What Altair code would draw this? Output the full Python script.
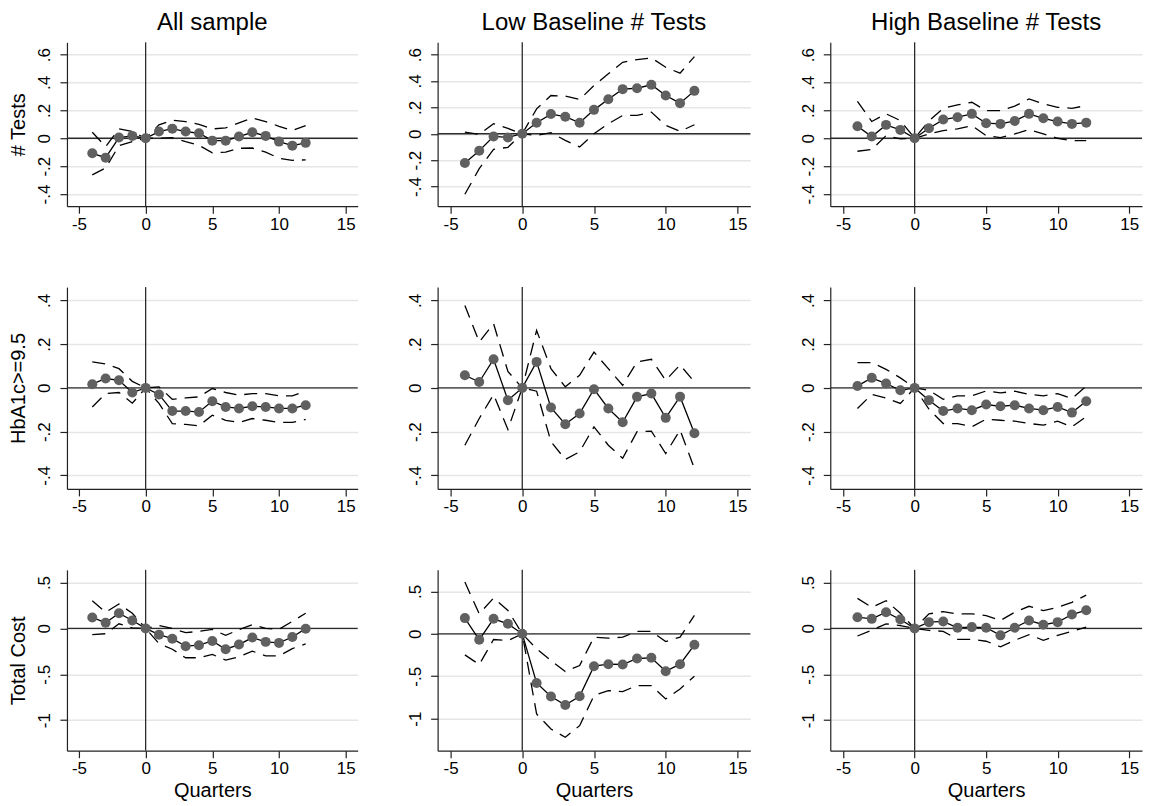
import altair as alt
import pandas as pd

Q = [-4, -3, -2, -1, 0, 1, 2, 3, 4, 5, 6, 7, 8, 9, 10, 11, 12]
X_TICKS = [-5, 0, 5, 10, 15]

COL_TITLES = ["All sample", "Low Baseline # Tests", "High Baseline # Tests"]
ROW_TITLES = ["# Tests", "HbA1c>=9.5", "Total Cost"]
X_TITLE = "Quarters"

# Row 1: # Tests
tests_all_b = [-0.108, -0.139, 0.005, 0.017, 0, 0.048, 0.069, 0.048, 0.036, -0.017, -0.017, 0.012, 0.043, 0.017, -0.024, -0.053, -0.033]
tests_all_hi = [0.043, -0.060, 0.067, 0.048, 0, 0.096, 0.13, 0.12, 0.10, 0.067, 0.074, 0.11, 0.146, 0.12, 0.086, 0.055, 0.091]
tests_all_lo = [-0.263, -0.213, -0.053, -0.024, 0, 0.0, 0.005, -0.024, -0.05, -0.105, -0.1, -0.072, -0.07, -0.1, -0.143, -0.158, -0.155]

tests_low_b = [-0.222, -0.129, -0.020, -0.028, 0, 0.083, 0.149, 0.129, 0.083, 0.181, 0.262, 0.338, 0.345, 0.371, 0.29, 0.232, 0.325]
tests_low_hi = [0.013, -0.005, 0.076, 0.04, 0, 0.189, 0.29, 0.285, 0.26, 0.365, 0.454, 0.542, 0.562, 0.575, 0.504, 0.459, 0.585]
tests_low_lo = [-0.459, -0.265, -0.118, -0.103, 0, -0.013, 0.008, -0.05, -0.1, 0.0, 0.076, 0.139, 0.139, 0.164, 0.063, 0.018, 0.068]

tests_high_b = [0.086, 0.012, 0.096, 0.06, 0, 0.072, 0.134, 0.151, 0.175, 0.108, 0.103, 0.124, 0.175, 0.143, 0.12, 0.103, 0.112]
tests_high_hi = [0.265, 0.12, 0.175, 0.127, 0, 0.125, 0.215, 0.239, 0.258, 0.198, 0.198, 0.23, 0.282, 0.246, 0.222, 0.215, 0.234]
tests_high_lo = [-0.093, -0.081, 0.019, -0.005, 0, 0.03, 0.055, 0.067, 0.091, 0.019, 0.005, 0.031, 0.062, 0.031, 0.0, -0.017, -0.017]

# Row 2: HbA1c>=9.5
hba_all_b = [0.017, 0.043, 0.035, -0.021, 0, -0.03, -0.106, -0.106, -0.11, -0.061, -0.087, -0.094, -0.084, -0.087, -0.094, -0.094, -0.079]
hba_all_hi = [0.119, 0.11, 0.088, 0.03, 0, 0.005, -0.052, -0.046, -0.041, -0.003, -0.021, -0.033, -0.026, -0.026, -0.036, -0.036, -0.015]
hba_all_lo = [-0.087, -0.026, -0.021, -0.07, 0, -0.071, -0.163, -0.167, -0.173, -0.125, -0.148, -0.158, -0.14, -0.148, -0.158, -0.158, -0.144]

hba_low_b = [0.058, 0.027, 0.131, -0.056, 0, 0.119, -0.09, -0.166, -0.117, -0.006, -0.094, -0.157, -0.041, -0.026, -0.137, -0.04, -0.207]
hba_low_hi = [0.377, 0.21, 0.294, 0.075, 0, 0.263, 0.088, 0.005, 0.058, 0.164, 0.088, 0.012, 0.119, 0.131, 0.035, 0.105, 0.027]
hba_low_lo = [-0.262, -0.14, -0.03, -0.19, 0, -0.015, -0.246, -0.327, -0.292, -0.178, -0.262, -0.322, -0.2, -0.198, -0.3, -0.193, -0.368]

hba_high_b = [0.009, 0.046, 0.02, -0.011, 0, -0.056, -0.106, -0.094, -0.102, -0.076, -0.084, -0.079, -0.094, -0.102, -0.087, -0.113, -0.061]
hba_high_hi = [0.116, 0.116, 0.085, 0.046, 0, -0.011, -0.052, -0.036, -0.036, -0.014, -0.023, -0.015, -0.03, -0.036, -0.026, -0.049, 0.008]
hba_high_lo = [-0.094, -0.03, -0.046, -0.071, 0, -0.097, -0.163, -0.163, -0.178, -0.143, -0.148, -0.152, -0.163, -0.17, -0.152, -0.178, -0.132]

# Row 3: Total Cost
cost_all_b = [0.119, 0.061, 0.165, 0.086, 0, -0.068, -0.112, -0.194, -0.183, -0.137, -0.227, -0.176, -0.1, -0.147, -0.158, -0.094, -0.003]
cost_all_hi = [0.302, 0.176, 0.266, 0.165, 0, 0.032, 0.0, -0.047, -0.032, -0.01, -0.076, -0.014, 0.04, 0.0, -0.01, 0.076, 0.165]
cost_all_lo = [-0.068, -0.058, 0.05, 0.005, 0, -0.165, -0.227, -0.32, -0.32, -0.284, -0.345, -0.31, -0.248, -0.3, -0.3, -0.22, -0.17]

cost_low_b = [0.185, -0.071, 0.177, 0.118, 0, -0.579, -0.74, -0.839, -0.736, -0.382, -0.358, -0.362, -0.291, -0.283, -0.441, -0.358, -0.13]
cost_low_hi = [0.61, 0.236, 0.421, 0.276, 0, -0.177, -0.315, -0.445, -0.374, -0.039, -0.051, -0.039, 0.028, 0.028, -0.091, -0.039, 0.217]
cost_low_lo = [-0.248, -0.362, -0.067, -0.08, 0, -0.945, -1.122, -1.22, -1.083, -0.728, -0.669, -0.681, -0.61, -0.61, -0.768, -0.65, -0.5]

cost_high_b = [0.122, 0.104, 0.176, 0.097, 0, 0.068, 0.076, 0.007, 0.014, 0.007, -0.076, 0.007, 0.086, 0.04, 0.068, 0.151, 0.198]
cost_high_hi = [0.327, 0.23, 0.302, 0.165, 0, 0.158, 0.183, 0.158, 0.158, 0.14, 0.086, 0.176, 0.241, 0.194, 0.23, 0.284, 0.363]
cost_high_lo = [-0.083, -0.02, 0.05, 0.03, 0, -0.022, -0.032, -0.119, -0.119, -0.14, -0.2, -0.13, -0.068, -0.13, -0.076, -0.032, 0.014]

Y_TICKS = [
    [-0.4, -0.2, 0, 0.2, 0.4, 0.6],
    [-0.4, -0.2, 0, 0.2, 0.4],
    [-1, -0.5, 0, 0.5],
]
Y_DOMAINS = [
    [[-0.487, 0.688], [-0.549, 0.693], [-0.487, 0.688]],
    [[-0.462, 0.461], [-0.462, 0.461], [-0.462, 0.461]],
    [[-1.333, 0.638], [-1.378, 0.754], [-1.333, 0.638]],
]
X_DOMAIN = [-5.9, 15.9]
WIDTHS = [291, 313, 312]
HEIGHTS = [164, 202, 181]

SERIES = [
    [(tests_all_b, tests_all_hi, tests_all_lo), (tests_low_b, tests_low_hi, tests_low_lo), (tests_high_b, tests_high_hi, tests_high_lo)],
    [(hba_all_b, hba_all_hi, hba_all_lo), (hba_low_b, hba_low_hi, hba_low_lo), (hba_high_b, hba_high_hi, hba_high_lo)],
    [(cost_all_b, cost_all_hi, cost_all_lo), (cost_low_b, cost_low_hi, cost_low_lo), (cost_high_b, cost_high_hi, cost_high_lo)],
]

Y_LABEL_EXPR = "replace(toString(datum.value), '0.', '.')"
DASH = [13, 8]


def panel(r, c):
    b, hi, lo = SERIES[r][c]
    w, h = WIDTHS[c], HEIGHTS[r]
    df = pd.DataFrame({"q": Q, "b": b, "hi": hi, "lo": lo})
    zero = pd.DataFrame({"z": [0]})

    xscale = alt.Scale(domain=X_DOMAIN, nice=False, zero=False)
    yscale = alt.Scale(domain=Y_DOMAINS[r][c], nice=False, zero=False)

    xaxis_kw = dict(values=X_TICKS, grid=False, labelExpr="toString(datum.value)",
                    tickSize=7, labelPadding=3, labelFontSize=17, labelFlush=False)
    if r == 2:
        xaxis = alt.Axis(title=X_TITLE, titleFontSize=20, titlePadding=4, **xaxis_kw)
    else:
        xaxis = alt.Axis(title=None, **xaxis_kw)

    yaxis_kw = dict(values=Y_TICKS[r], grid=True, labelExpr=Y_LABEL_EXPR,
                    tickSize=7, labelPadding=6, labelFontSize=17,
                    labelAngle=270, labelAlign="center", labelBaseline="bottom",
                    labelFlush=False)
    if c == 0:
        yaxis = alt.Axis(title=ROW_TITLES[r], titleFontSize=20, titleAngle=270,
                         titleAlign="center", titleBaseline="bottom",
                         titleX=-38, titleY=h / 2, **yaxis_kw)
    else:
        yaxis = alt.Axis(title=None, **yaxis_kw)

    def X(field):
        return alt.X(f"{field}:Q", scale=xscale, axis=xaxis)

    def Y(field):
        return alt.Y(f"{field}:Q", scale=yscale, axis=yaxis)

    base = alt.Chart(df)
    ci_hi = base.mark_line(color="black", strokeWidth=1.3, strokeDash=DASH).encode(x=X("q"), y=Y("hi"))
    ci_lo = base.mark_line(color="black", strokeWidth=1.3, strokeDash=DASH).encode(x=X("q"), y=Y("lo"))
    hline = alt.Chart(zero).mark_rule(color="#2b2b2b", strokeWidth=1.3).encode(y=Y("z"))
    vline = alt.Chart(zero).mark_rule(color="#2b2b2b", strokeWidth=1.3).encode(x=X("z"))
    line = base.mark_line(color="black", strokeWidth=1.3).encode(x=X("q"), y=Y("b"))
    pts = base.mark_circle(size=100, color="#606060", opacity=1).encode(x=X("q"), y=Y("b"))

    layer = alt.layer(hline, vline, ci_hi, ci_lo, line, pts).properties(width=w, height=h)
    if r == 0:
        layer = layer.properties(title=alt.TitleParams(
            COL_TITLES[c], fontSize=24, fontWeight="normal", anchor="middle",
            frame="group", baseline="bottom", offset=-17, color="black"))
    return layer


panels = [panel(r, c) for r in range(3) for c in range(3)]

chart = alt.concat(*panels, columns=3, spacing={"row": 81, "column": 80}, bounds="flush").properties(
    padding={"left": 1, "top": 2, "right": 0, "bottom": 0}
).configure(font="Liberation Sans").configure_view(stroke=None).configure_axis(
    domainColor="#222222", domainWidth=1.2, tickColor="#222222", tickWidth=1.2,
    labelColor="black", titleColor="black", titleFontWeight="normal",
    gridColor="#e6e6e6", gridWidth=1.5, labelFont="Liberation Sans", titleFont="Liberation Sans"
)

chart.save("out.html", embed_options={"renderer": "svg", "actions": False})
